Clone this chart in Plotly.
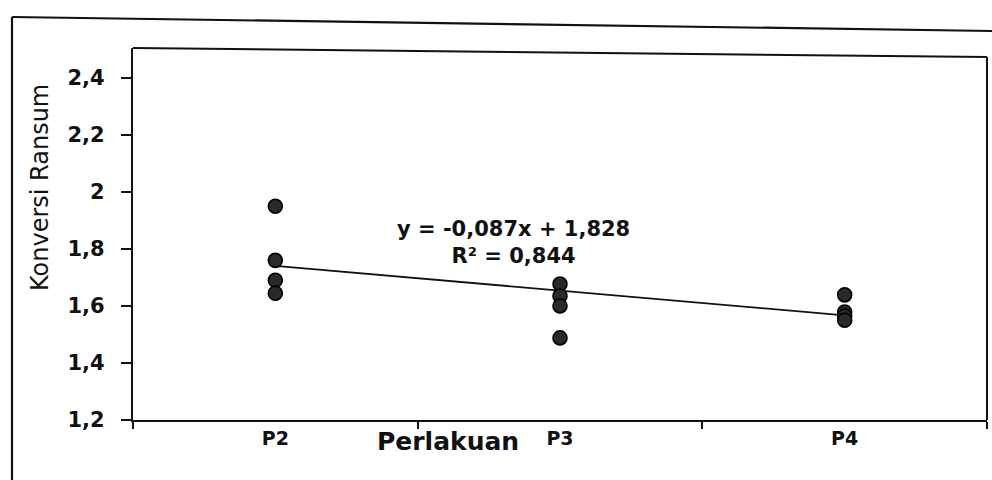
import plotly.graph_objects as go

categories = ["P2", "P3", "P4"]
p2_values = [1.95, 1.76, 1.69, 1.645]
p3_values = [1.677, 1.635, 1.60, 1.488]
p4_values = [1.639, 1.579, 1.565, 1.55]
slope = -0.087
intercept = 1.828
r_squared = 0.844
y_ticks = [1.2, 1.4, 1.6, 1.8, 2.0, 2.2, 2.4]

xs, ys = [], []
for cat, vals in zip(categories, [p2_values, p3_values, p4_values]):
    xs += [cat] * len(vals)
    ys += vals

trend_x = [categories[0], categories[-1]]
trend_y = [slope * 1 + intercept, slope * len(categories) + intercept]

font_family = "DejaVu Sans, Liberation Sans, Arial, sans-serif"
ink = "#111"

fig = go.Figure()
fig.add_trace(go.Scatter(
    x=trend_x, y=trend_y, mode="lines",
    line=dict(color=ink, width=1.8), showlegend=False, hoverinfo="skip"))
fig.add_trace(go.Scatter(
    x=xs, y=ys, mode="markers",
    marker=dict(symbol="circle", size=14, color="#2a2a2a",
                line=dict(color="#000", width=1.6)),
    showlegend=False))

L, R, T, B = 133, 5, 48, 60
W, H = 992, 480
pw, ph = W - L - R, H - T - B

def px(x):
    return (x - L) / pw

def py(y):
    return (H - B - y) / ph

shapes = [
    # outer chart border (scanned, slightly skewed)
    dict(type="line", xref="paper", yref="paper", x0=px(12), y0=py(17), x1=px(992), y1=py(31),
         line=dict(color=ink, width=2.2)),
    dict(type="line", xref="paper", yref="paper", x0=px(12), y0=py(17), x1=px(12), y1=py(480),
         line=dict(color=ink, width=2.2)),
    # plot area top and right edges
    dict(type="line", xref="paper", yref="paper", x0=px(133), y0=py(48), x1=px(987), y1=py(57),
         line=dict(color=ink, width=2)),
    dict(type="line", xref="paper", yref="paper", x0=px(987), y0=py(57), x1=px(987), y1=py(420),
         line=dict(color=ink, width=2)),
]

annotations = [
    dict(text="<b>y = -0,087x + 1,828</b><br><b>R² = 0,844</b>", xref="paper", yref="paper",
         x=px(513), y=py(242), xanchor="center", yanchor="middle",
         showarrow=False, align="center",
         font=dict(family=font_family, size=21, color=ink)),
    dict(text="<b>Perlakuan</b>", xref="paper", yref="paper", x=px(448), y=py(441),
         xanchor="center", yanchor="middle",
         showarrow=False, font=dict(family=font_family, size=25, color=ink)),
    dict(text="Konversi Ransum", xref="paper", yref="paper", x=px(40), y=py(188),
         xanchor="center", yanchor="middle", textangle=-90,
         showarrow=False, font=dict(family=font_family, size=24, color=ink)),
]

fig.update_layout(
    width=W, height=H,
    margin=dict(l=L, r=R, t=T, b=B),
    paper_bgcolor="white", plot_bgcolor="white",
    separators=",.",
    shapes=shapes, annotations=annotations,
    font=dict(family=font_family, color=ink),
)
fig.update_xaxes(
    type="category", categoryorder="array", categoryarray=categories,
    range=[-0.5, 2.5], showline=True, linecolor=ink, linewidth=2.2,
    ticks="outside", tickson="boundaries", ticklen=7, tickcolor=ink, tickwidth=1.5,
    showgrid=False, zeroline=False,
    tickfont=dict(size=19, family=font_family, color=ink, weight="bold"),
)
fig.update_yaxes(
    range=[1.2, 2.505], tickvals=y_ticks, tickformat="~g",
    showline=True, linecolor=ink, linewidth=2.2,
    ticks="outside", ticklen=10, tickcolor=ink, tickwidth=1.5,
    ticklabelstandoff=12,
    showgrid=False, zeroline=False,
    tickfont=dict(size=21, family=font_family, color=ink, weight="bold"),
)

fig.write_html("out.html")
